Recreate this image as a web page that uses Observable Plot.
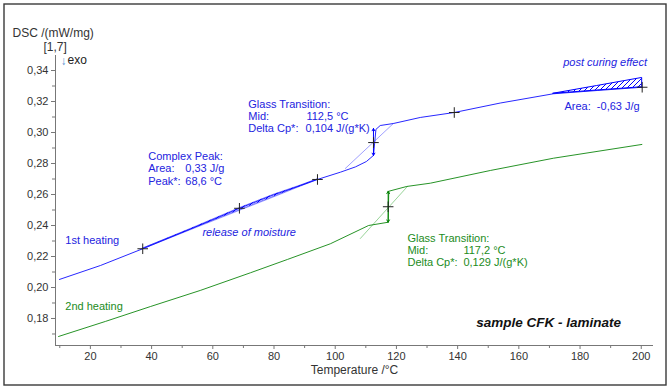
<!DOCTYPE html>
<html><head><meta charset="utf-8">
<script src="https://cdn.jsdelivr.net/npm/d3@7"></script>
<script src="https://cdn.jsdelivr.net/npm/@observablehq/plot@0.6"></script>
<style>body{margin:0;background:#fff} svg{display:block}</style>
</head><body><div id="chart"></div>
<script>
// ---- data ----
const heat1T = [9.9,23.3,37.1,52.7,68.7,79.9,88.6,94.2,101.7,106.6,110.2,112.5,112.9,113.3,114.7,119.0,127.8,138.9,153.9,171.3,185.6,200.3];
const heat1V = [0.2052,0.2142,0.2250,0.2377,0.2511,0.2598,0.2657,0.2697,0.2744,0.2778,0.2813,0.2852,0.2935,0.3020,0.3045,0.3058,0.3097,0.3129,0.3190,0.3250,0.3271,0.3292];
const heat2T = [9.6,24.9,39.6,55.9,72.3,84.4,98.4,110.9,117.3,117.5,123.4,131.1,150.7,171.3,200.2];
const heat2V = [0.1684,0.1781,0.1877,0.1981,0.2095,0.2181,0.2282,0.2400,0.2421,0.2621,0.2652,0.2673,0.2755,0.2834,0.2923];

// complex peak (release of moisture): curve vs. straight baseline
const peakT     = [37.1,52.7,68.7,79.9,88.6,94.2];
const peakCurve = [0.2250,0.2377,0.2511,0.2598,0.2657,0.2697];
const peakBase  = [0.2250,0.2373,0.2498,0.2585,0.2654,0.2697];
// post curing effect: curve vs. baseline
const postT     = [171.3,185.6,200.3];
const postCurve = [0.3250,0.3271,0.3292];
const postBase  = [0.3250,0.3300,0.3352];

// glass transition evaluation (tangent endpoints, mid, step limits)
const tangent1 = [[103.3,0.2768],[119.0,0.3058]];
const tangent2 = [[108.2,0.2316],[123.6,0.2652]];
const tg1 = {T:112.5, mid:0.2935, lo:0.2852, hi:0.3026};
const tg2 = {T:117.3, mid:0.2521, lo:0.2421, hi:0.2621};
const markT = [37.1,68.7,94.2,112.5,138.9,200.3,117.3];
const markV = [0.2250,0.2511,0.2697,0.2935,0.3129,0.3292,0.2521];

const xTicks = [20,40,60,80,100,120,140,160,180,200];
const xMinor = [10,30,50,70,90,110,130,150,170,190];
const yTicks = [0.18,0.20,0.22,0.24,0.26,0.28,0.30,0.32,0.34];
const yMinor = [0.17,0.19,0.21,0.23,0.25,0.27,0.29,0.31,0.33];

const blueText = [
  ["Glass Transition:",71.6,0.3181],["Mid:",71.6,0.3103],["112,5 °C",90.6,0.3103],
  ["Delta Cp*:",71.6,0.3026],["0,104 J/(g*K)",90.3,0.3026],
  ["Complex Peak:",38.9,0.2845],["Area:",38.9,0.2766],["0,33 J/g",51.0,0.2766],
  ["Peak*:",38.9,0.2686],["68,6 °C",51.0,0.2686],
  ["1st heating",11.8,0.2303],
  ["Area:\u00a0\u00a0-0,63 J/g",174.9,0.3168]
];
const blueItalic = [["release of moisture",56.6,0.2355],["post curing effect",174.5,0.3452]];
const greenText = [
  ["Glass Transition:",123.6,0.2316],["Mid:",123.6,0.2239],["117,2 °C",141.9,0.2239],
  ["Delta Cp*:",123.6,0.2161],["0,129 J/(g*K)",141.9,0.2161],
  ["2nd heating",11.8,0.1877]
];

// ---- tables ----
const blue = heat1T.map((T,i)=>({T, v:heat1V[i]}));
const green = heat2T.map((T,i)=>({T, v:heat2V[i]}));
const peak = peakT.map((T,i)=>({T, c:peakCurve[i], b:peakBase[i]}));
const post = postT.map((T,i)=>({T, c:postCurve[i], b:postBase[i]}));
const marks = markT.map((T,i)=>({T, v:markV[i]}));
const txt = a => a.map(([t,T,v])=>({t,T,v}));

const BLUE="#0000ff", BLUET="#2323e0", LBLUE="#a0a0ff";
const GREEN="#008000", GREENT="#1c8c1c", LGREEN="#98d498";
const fmt = d => d.toFixed(2).replace(".", ",");

const plot = Plot.plot({
  width: 671, height: 389,
  marginLeft: 55, marginRight: 18, marginTop: 55, marginBottom: 44,
  x: {domain: [8.6, 204]},
  y: {domain: [0.16258, 0.34968]},
  style: {fontFamily: "Arial, 'Liberation Sans', sans-serif", fontSize: "11px", color: "#333", background: "#fff"},
  marks: [
    Plot.frame({stroke:"#3a3a3a", strokeWidth:1.4, insetLeft:-51.5, insetTop:-51.5, insetRight:-12.5, insetBottom:-39.5}),
    Plot.ruleX([8.6], {stroke:"#777"}),
    Plot.ruleY([0.16258], {stroke:"#777"}),
    Plot.axisY(yTicks, {tickSize:4, tickPadding:3, tickFormat:fmt, stroke:"#777", label:null, fontSize:11}),
    Plot.axisY(yMinor, {tickSize:3, tickFormat:()=>"", stroke:"#777", label:null}),
    Plot.axisX(xTicks, {tickSize:4, tickPadding:3, stroke:"#777", label:null, fontSize:11}),
    Plot.axisX(xMinor, {tickSize:3, tickFormat:()=>"", stroke:"#777", label:null}),
    // construction
    Plot.line(tangent1, {x:d=>d[0], y:d=>d[1], stroke:LBLUE, strokeWidth:1}),
    Plot.line(tangent2, {x:d=>d[0], y:d=>d[1], stroke:LGREEN, strokeWidth:1}),
    Plot.line(peak, {x:"T", y:"b", stroke:LBLUE, strokeWidth:1}),
    Plot.areaY(peak, {x:"T", y1:"b", y2:"c", fill:"url(#hatch)", stroke:BLUE, strokeWidth:0.5}),
    Plot.areaY(post, {x:"T", y1:"c", y2:"b", fill:"url(#hatch)", stroke:BLUE, strokeWidth:1}),
    // curves
    Plot.line(green, {x:"T", y:"v", stroke:GREEN, strokeWidth:0.85}),
    Plot.line(blue, {x:"T", y:"v", stroke:BLUE, strokeWidth:0.85}),
    // step arrows
    Plot.arrow([tg1,tg1], {x1:"T", x2:"T", y1:"mid", y2:(d,i)=>i?d.lo:d.hi, stroke:BLUE, headLength:4, strokeWidth:1}),
    Plot.arrow([tg2,tg2], {x1:"T", x2:"T", y1:"mid", y2:(d,i)=>i?d.lo:d.hi, stroke:GREEN, headLength:4, strokeWidth:1}),
    Plot.dot(marks, {x:"T", y:"v", symbol:"plus", r:3.5, stroke:"#222", strokeWidth:1}),
    // annotations
    Plot.text(txt(blueText), {x:"T", y:"v", text:"t", fill:BLUET, textAnchor:"start", lineAnchor:"middle", fontSize:11, style:"letter-spacing:0.15px"}),
    Plot.text(txt(blueItalic), {x:"T", y:"v", text:"t", fill:BLUET, textAnchor:"start", lineAnchor:"middle", fontSize:11, fontStyle:"italic", style:"letter-spacing:0.45px"}),
    Plot.text(txt(greenText), {x:"T", y:"v", text:"t", fill:GREENT, textAnchor:"start", lineAnchor:"middle", fontSize:11, style:"letter-spacing:0.15px"}),
    Plot.text(["sample CFK - laminate"], {x:146.1, y:0.1774, textAnchor:"start", lineAnchor:"middle", fontSize:13.5, fontWeight:"bold", fontStyle:"italic", fill:"#111"}),
    Plot.text(["DSC /(mW/mg)"], {frameAnchor:"top-left", dx:-43, dy:-22, textAnchor:"start", lineAnchor:"middle", fontSize:12, fill:"#333"}),
    Plot.text(["[1,7]"], {frameAnchor:"top-left", dx:-12, dy:-8, textAnchor:"start", lineAnchor:"middle", fontSize:12, fill:"#333"}),
    Plot.text(["\u2193"], {frameAnchor:"top-left", dx:5, dy:6, textAnchor:"start", lineAnchor:"middle", fontSize:12, fill:"#5a8fd0"}),
    Plot.text(["exo"], {frameAnchor:"top-left", dx:12, dy:5, textAnchor:"start", lineAnchor:"middle", fontSize:12, fill:"#222"}),
    Plot.text(["Temperature /°C"], {frameAnchor:"bottom", dy:25, lineAnchor:"middle", fontSize:12, fill:"#333"})
  ]
});

const defs = d3.select(plot).insert("defs", ":first-child");
const pat = defs.append("pattern").attr("id","hatch").attr("patternUnits","userSpaceOnUse").attr("width",5).attr("height",5);
pat.append("rect").attr("width",5).attr("height",5).attr("fill","#fff");
pat.append("path").attr("d","M-1,6 L6,-1 M-1,1 L1,-1 M4,6 L6,4").attr("stroke",BLUE).attr("stroke-width",1);

document.getElementById("chart").append(plot);
</script></body></html>
